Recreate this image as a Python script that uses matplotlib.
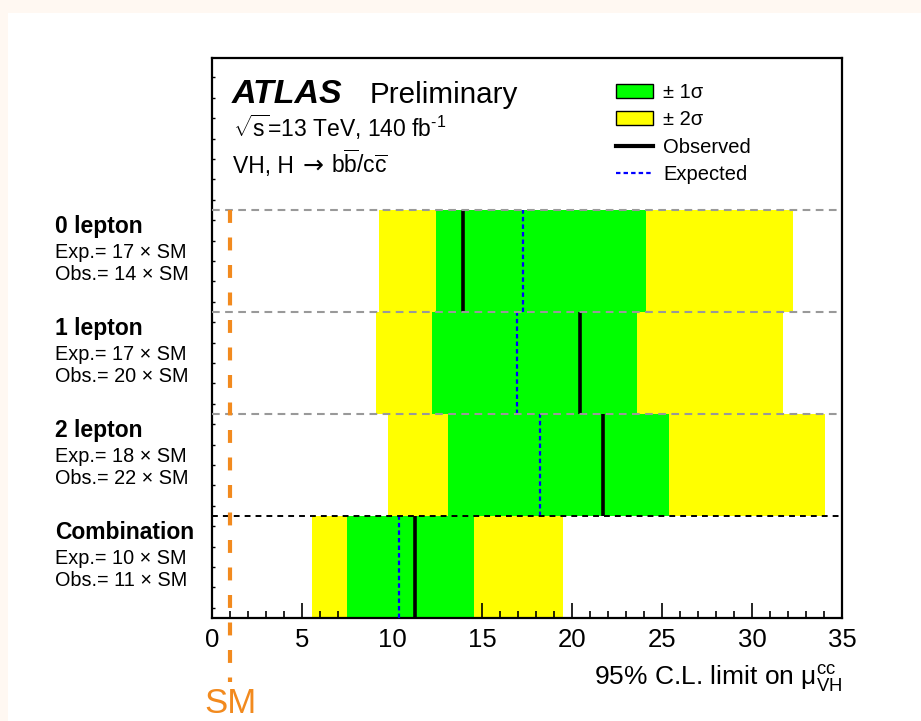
import numpy as np
import matplotlib.pyplot as plt
from matplotlib.patches import Patch, Rectangle
from matplotlib.lines import Line2D
from matplotlib.transforms import blended_transform_factory

plt.rcParams['font.family'] = ['Liberation Sans', 'DejaVu Sans']
plt.rcParams['mathtext.fontset'] = 'custom'
plt.rcParams['mathtext.rm'] = 'Liberation Sans'
plt.rcParams['mathtext.it'] = 'Liberation Sans:italic'
plt.rcParams['mathtext.bf'] = 'Liberation Sans:bold'

# Channels from top to bottom, limits in units of the SM prediction
channels = ['0 lepton', '1 lepton', '2 lepton', 'Combination']
observed = [13.95, 20.45, 21.7, 11.3]
expected = [17.3, 16.95, 18.2, 10.4]
sig1_lo = [12.44, 12.2, 13.1, 7.5]
sig1_hi = [24.1, 23.6, 25.4, 14.55]
sig2_lo = [9.26, 9.09, 9.78, 5.57]
sig2_hi = [32.3, 31.7, 34.05, 19.5]
sm_value = 1.0

green = '#00ff00'
yellow = '#ffff00'
orange = '#f28a1e'

# one row per channel, the top one first
rows = np.arange(len(channels))[::-1]

fig = plt.figure(figsize=(9.21, 7.21), dpi=100)
fig.patch.set_facecolor('#fff8f2')
fig.add_artist(Rectangle((8 / 921, 0), 1, 1 - 13 / 721, transform=fig.transFigure,
                         facecolor='white', edgecolor='none', zorder=-1))

ax = fig.add_axes([212 / 921, 103 / 721, 630 / 921, 560 / 721])

# bands
ax.barh(rows, np.subtract(sig2_hi, sig2_lo), left=sig2_lo, height=1, align='edge',
        color=yellow, zorder=1)
ax.barh(rows, np.subtract(sig1_hi, sig1_lo), left=sig1_lo, height=1, align='edge',
        color=green, zorder=2)

# observed and expected limits
ax.vlines(observed, rows, rows + 1, colors='black', linewidth=2.6, zorder=4)
ax.vlines(expected, rows, rows + 1, colors='blue', linewidth=1.6,
          linestyles=(0, (2.0, 1.4)), zorder=4)

# row separators, the combination is set apart in black
for y in rows + 1:
    if y == 1:
        ax.axhline(y, color='black', linewidth=1.4, linestyle=(0, (3.0, 2.6)), zorder=5)
    else:
        ax.axhline(y, color='#999999', linewidth=1.5, linestyle=(0, (3.7, 2.6)), zorder=5)

# SM reference
ax.plot([sm_value, sm_value], [rows[0] + 1, -0.63], color=orange, linewidth=3,
        dashes=(3.1, 3.5), clip_on=False, zorder=6)
ax.text(sm_value, -0.935, 'SM', color=orange, fontsize=25, ha='center', va='baseline')

ax.set_xlim(0, 35)
ax.set_ylim(0, 5.49)
ax.set_xticks(np.arange(0, 36, 5))
ax.set_xticks(np.arange(0, 36, 1), minor=True)
ax.set_yticks(np.arange(0.1, 5.4, 0.2))
ax.tick_params(axis='x', which='major', direction='in', length=11, width=1.2,
               labelsize=18.5, pad=7)
ax.tick_params(axis='x', which='minor', direction='in', length=5, width=1.2)
ax.tick_params(axis='y', direction='in', length=2.5, width=1, labelleft=False)
for side in ['left', 'right', 'top', 'bottom']:
    ax.spines[side].set_linewidth(1.6)

ax.set_xlabel(r'95% C.L. limit on $\mathrm{\mu}^{\mathrm{cc}}_{\mathrm{VH}}$',
              fontsize=19, loc='right')
ax.xaxis.set_label_coords(1.0, -67 / 560)
ax.xaxis.label.set_va('baseline')

# channel labels to the left of the frame
lab = blended_transform_factory(fig.transFigure, ax.transData)
for y, name, e, o in zip(rows, channels, expected, observed):
    top = y + 1
    ax.text(55 / 921, top - 0.225, name, transform=lab, fontsize=16.5,
            fontweight='bold', va='baseline')
    ax.text(55 / 921, top - 0.47, f'Exp.= {round(e)} × SM', transform=lab,
            fontsize=14.3, va='baseline')
    ax.text(55 / 921, top - 0.685, f'Obs.= {round(o)} × SM', transform=lab,
            fontsize=14.3, va='baseline')

fig.text(232 / 921, 1 - 103 / 721, 'ATLAS', fontsize=24.5, fontweight='bold',
         fontstyle='italic', va='baseline')
fig.text(370 / 921, 1 - 103 / 721, 'Preliminary', fontsize=21.3, va='baseline')
fig.text(233 / 921, 1 - 137 / 721, r'$\sqrt{\mathrm{s}}$=13 TeV, 140 fb$^{\mathrm{‐1}}$',
         fontsize=16.5, va='baseline')

# process line: the arrow is taken from DejaVu, which draws it longer
proc = fig.text(233 / 921, 1 - 173 / 721, 'VH, H ', fontsize=16.5, va='baseline')
ax.annotate('→', xy=(1, 0), xycoords=proc, xytext=(2, 0.5),
            textcoords='offset points', fontsize=18, family='DejaVu Sans',
            va='bottom', annotation_clip=False)
ax.annotate(r'b$\overline{\mathrm{b}}$/c$\overline{\mathrm{c}}$', xy=(1, 0),
            xycoords=proc, xytext=(22, 0), textcoords='offset points', fontsize=16.5,
            va='bottom', annotation_clip=False)

handles = [Patch(facecolor=green, edgecolor='black', linewidth=1),
           Patch(facecolor=yellow, edgecolor='black', linewidth=1),
           Line2D([], [], color='black', linewidth=3),
           Line2D([], [], color='blue', linewidth=1.6, linestyle=(0, (2.0, 1.4)))]
labels = ['± 1σ', '± 2σ', 'Observed', 'Expected']
fig.legend(handles, labels, loc='upper left', bbox_to_anchor=(616 / 921, 1 - 83 / 721),
           frameon=False, fontsize=14.5, handlelength=1.85, handleheight=0.7,
           handletextpad=0.5, labelspacing=0.42, borderpad=0, borderaxespad=0)

fig.savefig('out.png', dpi=100)
